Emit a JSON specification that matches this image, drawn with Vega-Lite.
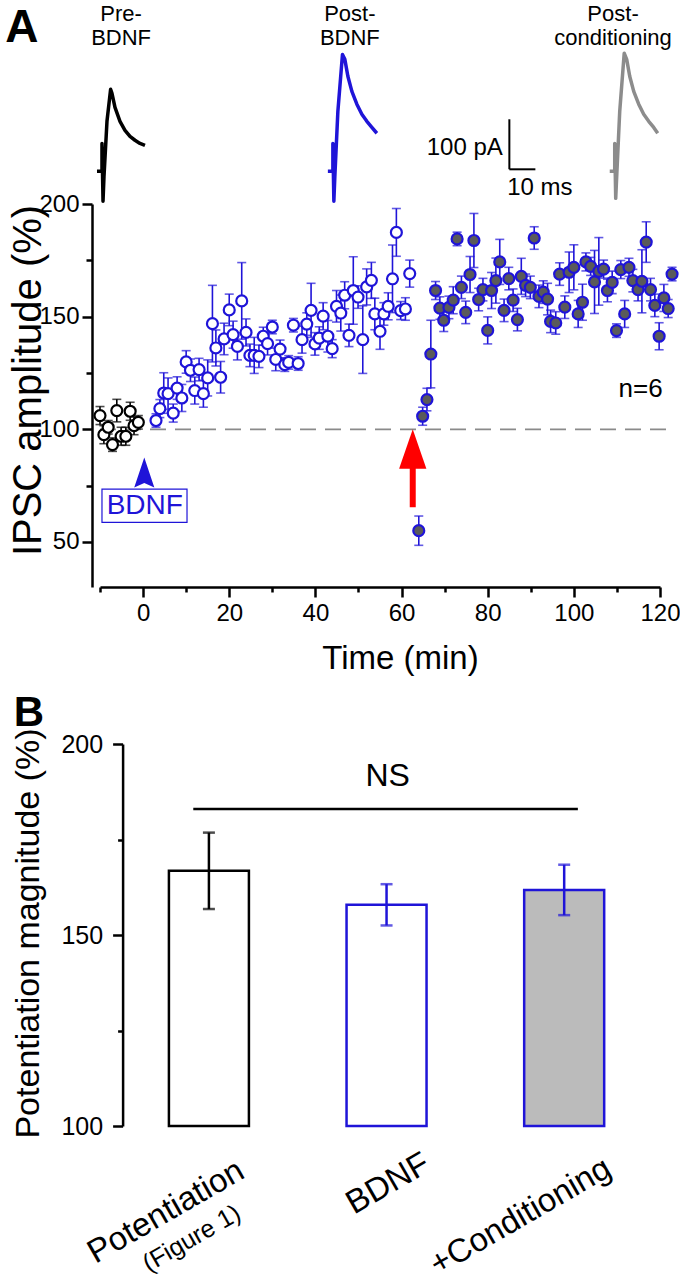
{
  "$schema": "https://vega.github.io/schema/vega-lite/v6.json",
  "padding": {"left": 5, "top": 3, "right": 0, "bottom": 0},
  "background": "white",
  "spacing": 16,
  "resolve": {"scale": {"color": "independent", "fill": "independent", "stroke": "independent"}},
  "config": {
    "font": "Liberation Sans",
    "view": {"stroke": null},
    "axis": {"domainColor": "#000", "domainWidth": 2.5, "tickColor": "#000", "tickWidth": 2.5, "labelColor": "#000", "titleColor": "#000", "grid": false, "labelFont": "Liberation Sans", "titleFont": "Liberation Sans", "titleFontWeight": "normal", "labelOverlap": false, "labelFlush": false}
  },
  "vconcat": [
    {
      "width": 560,
      "height": 383,
      "resolve": {"axis": {"x": "independent", "y": "independent"}},
      "layer": [
        {
          "data": {"values": [{}]},
          "mark": {"type": "rule", "color": "#8a8a8a", "strokeWidth": 1.8, "strokeDash": [16, 9]},
          "encoding": {
            "x": {"datum": -10, "type": "quantitative", "scale": {"domain": [-10, 120], "nice": false, "zero": false},
              "axis": {"orient": "bottom", "values": [0, 20, 40, 60, 80, 100, 120], "tickSize": 10, "labelFontSize": 24, "labelPadding": 4, "title": "Time (min)", "titleFontSize": 33, "titlePadding": 17, "titleX": 300}},
            "x2": {"datum": 122.5},
            "y": {"datum": 100, "type": "quantitative", "scale": {"domain": [30, 200], "nice": false, "zero": false},
              "axis": {"orient": "left", "values": [50, 100, 150, 200], "tickSize": 10, "offset": 8, "labelFontSize": 24, "labelPadding": 3, "title": "IPSC amplitude (%)", "titleFontSize": 40, "titleX": -52, "titleY": 176, "titleBaseline": "alphabetic", "titleAlign": "center", "titleAngle": 270}}
          }
        },
        {
          "data": {"values": [{}]},
          "mark": {"type": "rule", "color": "#000", "strokeWidth": 2},
          "encoding": {
            "x": {"datum": 85.03, "type": "quantitative", "axis": {"orient": "bottom", "values": [-10, 10, 30, 50, 70, 90, 110], "tickSize": 5, "labels": false, "domain": false, "title": null}},
            "y": {"datum": 215.4, "type": "quantitative", "axis": {"orient": "left", "values": [75, 125, 175], "tickSize": 6, "offset": 8, "labels": false, "domain": false, "title": null}},
            "y2": {"datum": 237.6}
          }
        },
        {
          "data": {"values": [
            {"tr": "tpre", "i": 1, "t": -10.7, "v": 214.5}, {"tr": "tpre", "i": 2, "t": -9.54, "v": 214.5}, {"tr": "tpre", "i": 3, "t": -9.54, "v": 226.9}, {"tr": "tpre", "i": 4, "t": -9.3, "v": 201.2}, {"tr": "tpre", "i": 5, "t": -9.07, "v": 212.3}, {"tr": "tpre", "i": 6, "t": -8.38, "v": 236.7}, {"tr": "tpre", "i": 7, "t": -7.54, "v": 250.9}, {"tr": "tpre", "i": 8, "t": -7.22, "v": 249.1}, {"tr": "tpre", "i": 9, "t": -6.52, "v": 242.9}, {"tr": "tpre", "i": 10, "t": -5.36, "v": 236.7}, {"tr": "tpre", "i": 11, "t": -4.2, "v": 232.7}, {"tr": "tpre", "i": 12, "t": -3.04, "v": 230.0}, {"tr": "tpre", "i": 13, "t": -1.88, "v": 228.3}, {"tr": "tpre", "i": 14, "t": -0.72, "v": 226.9}, {"tr": "tpre", "i": 15, "t": 0.44, "v": 226.0},
            {"tr": "tpost", "i": 1, "t": 42.9, "v": 214.5}, {"tr": "tpost", "i": 2, "t": 44.06, "v": 214.5}, {"tr": "tpost", "i": 3, "t": 44.06, "v": 226.9}, {"tr": "tpost", "i": 4, "t": 44.29, "v": 201.2}, {"tr": "tpost", "i": 5, "t": 44.52, "v": 212.3}, {"tr": "tpost", "i": 6, "t": 45.22, "v": 241.1}, {"tr": "tpost", "i": 7, "t": 46.29, "v": 266.4}, {"tr": "tpost", "i": 8, "t": 46.84, "v": 264.2}, {"tr": "tpost", "i": 9, "t": 47.54, "v": 256.7}, {"tr": "tpost", "i": 10, "t": 48.47, "v": 250.0}, {"tr": "tpost", "i": 11, "t": 49.63, "v": 244.3}, {"tr": "tpost", "i": 12, "t": 50.79, "v": 239.8}, {"tr": "tpost", "i": 13, "t": 51.95, "v": 236.7}, {"tr": "tpost", "i": 14, "t": 53.11, "v": 234.0}, {"tr": "tpost", "i": 15, "t": 54.27, "v": 231.4},
            {"tr": "tcond", "i": 1, "t": 108.33, "v": 214.5}, {"tr": "tcond", "i": 2, "t": 109.49, "v": 214.5}, {"tr": "tcond", "i": 3, "t": 109.49, "v": 226.9}, {"tr": "tcond", "i": 4, "t": 109.72, "v": 202.5}, {"tr": "tcond", "i": 5, "t": 109.95, "v": 212.3}, {"tr": "tcond", "i": 6, "t": 110.65, "v": 241.1}, {"tr": "tcond", "i": 7, "t": 111.69, "v": 266.9}, {"tr": "tcond", "i": 8, "t": 112.27, "v": 264.2}, {"tr": "tcond", "i": 9, "t": 112.97, "v": 256.7}, {"tr": "tcond", "i": 10, "t": 113.9, "v": 250.0}, {"tr": "tcond", "i": 11, "t": 115.06, "v": 244.3}, {"tr": "tcond", "i": 12, "t": 116.22, "v": 239.8}, {"tr": "tcond", "i": 13, "t": 117.38, "v": 236.7}, {"tr": "tcond", "i": 14, "t": 118.54, "v": 234.0}, {"tr": "tcond", "i": 15, "t": 119.47, "v": 231.4}
          ]},
          "mark": {"type": "line", "strokeWidth": 3.5, "strokeJoin": "round"},
          "encoding": {
            "x": {"field": "t", "type": "quantitative", "axis": null},
            "y": {"field": "v", "type": "quantitative", "axis": null},
            "color": {"field": "tr", "type": "nominal", "legend": null, "scale": {"domain": ["pre", "bdnf", "cond", "tpre", "tpost", "tcond"], "range": ["#000000", "#1f14d8", "#1f14d8", "#000000", "#1f14d8", "#8c8c8c"]}},
            "order": {"field": "i", "type": "quantitative"}
          }
        },
        {
          "data": {"values": [{}]},
          "mark": {"type": "rule", "color": "#000", "strokeWidth": 2},
          "encoding": {"x": {"datum": 85.03, "type": "quantitative", "axis": null}, "x2": {"datum": 91.07}, "y": {"datum": 215.4, "type": "quantitative", "axis": null}}
        },
        {
          "data": {"values": [{"label": "Pre-\nBDNF", "t": -5.1, "v": 288.6}, {"label": "Post-\nBDNF", "t": 48.0, "v": 288.6}, {"label": "Post-\nconditioning", "t": 109.1, "v": 288.6}]},
          "mark": {"type": "text", "fontSize": 22, "lineBreak": "\n", "lineHeight": 23.5, "baseline": "top", "align": "center", "color": "#000"},
          "encoding": {"x": {"field": "t", "type": "quantitative", "axis": null}, "y": {"field": "v", "type": "quantitative", "axis": null}, "text": {"field": "label"}}
        },
        {
          "data": {"values": [{"label": "100 pA", "t": 83.5, "v": 224.7}]},
          "mark": {"type": "text", "fontSize": 24, "baseline": "middle", "align": "right", "color": "#000"},
          "encoding": {"x": {"field": "t", "type": "quantitative", "axis": null}, "y": {"field": "v", "type": "quantitative", "axis": null}, "text": {"field": "label"}}
        },
        {
          "data": {"values": [{"label": "10 ms", "t": 92.1, "v": 207.0}]},
          "mark": {"type": "text", "fontSize": 24, "baseline": "middle", "align": "center", "color": "#000"},
          "encoding": {"x": {"field": "t", "type": "quantitative", "axis": null}, "y": {"field": "v", "type": "quantitative", "axis": null}, "text": {"field": "label"}}
        },
        {
          "data": {"name": "pts"},
          "mark": {"type": "errorbar", "ticks": true, "size": 9, "thickness": 1.6},
          "encoding": {
            "x": {"field": "t", "type": "quantitative", "axis": null},
            "y": {"field": "v", "type": "quantitative", "axis": null},
            "yError": {"field": "e"},
            "color": {"field": "g", "type": "nominal", "legend": null}
          }
        },
        {
          "data": {"name": "pts"},
          "mark": {"type": "point", "shape": "circle", "filled": true, "size": 120, "strokeWidth": 2.2, "opacity": 1},
          "encoding": {
            "x": {"field": "t", "type": "quantitative", "axis": null},
            "y": {"field": "v", "type": "quantitative", "axis": null},
            "fill": {"field": "g", "type": "nominal", "legend": null, "scale": {"domain": ["pre", "bdnf", "cond"], "range": ["#ffffff", "#ffffff", "#5a5a5a"]}},
            "stroke": {"field": "g", "type": "nominal", "legend": null, "scale": {"domain": ["pre", "bdnf", "cond"], "range": ["#000000", "#1f14d8", "#1f14d8"]}}
          }
        },
        {
          "data": {"values": [{}]},
          "mark": {"type": "rule", "color": "#ff0000", "strokeWidth": 6},
          "encoding": {"x": {"datum": 62.6, "type": "quantitative", "axis": null}, "y": {"datum": 65.4, "type": "quantitative", "axis": null}, "y2": {"datum": 84}}
        },
        {
          "data": {"values": [{}]},
          "mark": {"type": "point", "shape": "M0,-1L0.69,1L-0.69,1Z", "size": 1560, "filled": true, "color": "#ff0000", "opacity": 1},
          "encoding": {"x": {"datum": 62.6, "type": "quantitative", "axis": null}, "y": {"datum": 91.2, "type": "quantitative", "axis": null}}
        },
        {
          "data": {"values": [{}]},
          "mark": {"type": "point", "shape": "M0,-1L0.67,1L0,0.7L-0.67,1Z", "size": 900, "filled": true, "color": "#1f14d8", "opacity": 1},
          "encoding": {"x": {"datum": 0.28, "type": "quantitative", "axis": null}, "y": {"datum": 80.8, "type": "quantitative", "axis": null}}
        },
        {
          "data": {"values": [{}]},
          "mark": {"type": "rect", "fill": "#ffffff", "stroke": "#1f14d8", "strokeWidth": 1.2},
          "encoding": {"x": {"datum": -9.54, "type": "quantitative", "axis": null}, "x2": {"datum": 10.2}, "y": {"datum": 73.4, "type": "quantitative", "axis": null}, "y2": {"datum": 58.7}}
        },
        {
          "data": {"values": [{"label": "BDNF", "t": 0.4, "v": 65.8}]},
          "mark": {"type": "text", "fontSize": 28, "baseline": "middle", "align": "center", "color": "#1f14d8"},
          "encoding": {"x": {"field": "t", "type": "quantitative", "axis": null}, "y": {"field": "v", "type": "quantitative", "axis": null}, "text": {"field": "label"}}
        },
        {
          "data": {"values": [{"label": "n=6", "t": 115.5, "v": 117.8}]},
          "mark": {"type": "text", "fontSize": 26, "baseline": "middle", "align": "center", "color": "#000"},
          "encoding": {"x": {"field": "t", "type": "quantitative", "axis": null}, "y": {"field": "v", "type": "quantitative", "axis": null}, "text": {"field": "label"}}
        },
        {
          "data": {"values": [{"label": "A", "t": -32.0, "v": 288.0}]},
          "mark": {"type": "text", "fontSize": 46, "fontWeight": "bold", "baseline": "top", "align": "left", "color": "#000"},
          "encoding": {"x": {"field": "t", "type": "quantitative", "axis": null}, "y": {"field": "v", "type": "quantitative", "axis": null}, "text": {"field": "label"}}
        }
      ]
    },
    {
      "width": 558,
      "height": 382,
      "resolve": {"axis": {"y": "independent"}},
      "layer": [
        {
          "data": {"name": "bars"},
          "mark": {"type": "bar", "size": 80, "strokeWidth": 2.5},
          "encoding": {
            "x": {"field": "pos", "type": "quantitative", "scale": {"domain": [0.415, 3.5], "nice": false, "zero": false}, "axis": null},
            "y": {"field": "m", "type": "quantitative", "scale": {"domain": [100, 200], "nice": false, "zero": false},
              "axis": {"orient": "left", "values": [100, 150, 200], "tickSize": 10, "offset": -22.6, "labelFontSize": 25, "labelPadding": 10, "title": "Potentiation magnitude (%)", "titleFontSize": 34, "titleX": -84, "titleY": 189, "titleBaseline": "alphabetic", "titleAlign": "center", "titleAngle": 270}},
            "y2": {"datum": 100},
            "fill": {"field": "g", "type": "nominal", "legend": null, "scale": {"domain": ["pot", "bdnf", "cond"], "range": ["#ffffff", "#ffffff", "#bbbbbb"]}},
            "stroke": {"field": "g", "type": "nominal", "legend": null, "scale": {"domain": ["pot", "bdnf", "cond"], "range": ["#000000", "#1f14d8", "#1f14d8"]}}
          }
        },
        {
          "data": {"name": "bars"},
          "mark": {"type": "errorbar", "ticks": true, "size": 12, "thickness": 2.5},
          "encoding": {
            "x": {"field": "pos", "type": "quantitative", "axis": null},
            "y": {"field": "m", "type": "quantitative", "axis": null},
            "yError": {"field": "e"},
            "color": {"field": "g", "type": "nominal", "legend": null, "scale": {"domain": ["pot", "bdnf", "cond"], "range": ["#000000", "#1f14d8", "#1f14d8"]}}
          }
        },
        {
          "data": {"values": [{}]},
          "mark": {"type": "rule", "color": "#000", "strokeWidth": 2.5},
          "encoding": {
            "x": {"datum": 0.912, "type": "quantitative", "axis": null},
            "x2": {"datum": 3.077},
            "y": {"datum": 183, "type": "quantitative", "axis": {"orient": "left", "values": [125, 175], "tickSize": 5, "offset": -22.6, "labels": false, "domain": false, "title": null}}
          }
        },
        {
          "data": {"values": [{"label": "NS", "pos": 2.006, "v": 191.6}]},
          "mark": {"type": "text", "fontSize": 32, "baseline": "middle", "align": "center", "color": "#000"},
          "encoding": {"x": {"field": "pos", "type": "quantitative", "axis": null}, "y": {"field": "v", "type": "quantitative", "axis": null}, "text": {"field": "label"}}
        },
        {
          "data": {"values": [{"label": "Potentiation", "pos": 1.138, "v": 92.6}, {"label": "BDNF", "pos": 2.182, "v": 94.4}, {"label": "+Conditioning", "pos": 3.204, "v": 93.2}]},
          "mark": {"type": "text", "fontSize": 33, "angle": -30, "baseline": "top", "align": "right", "color": "#000"},
          "encoding": {"x": {"field": "pos", "type": "quantitative", "axis": null}, "y": {"field": "v", "type": "quantitative", "axis": null}, "text": {"field": "label"}}
        },
        {
          "data": {"values": [{"label": "(Figure 1)", "pos": 1.133, "v": 80.4}]},
          "mark": {"type": "text", "fontSize": 25, "angle": -30, "baseline": "top", "align": "right", "color": "#000"},
          "encoding": {"x": {"field": "pos", "type": "quantitative", "axis": null}, "y": {"field": "v", "type": "quantitative", "axis": null}, "text": {"field": "label"}}
        },
        {
          "data": {"values": [{"label": "B", "pos": -0.099, "v": 213.4}]},
          "mark": {"type": "text", "fontSize": 42, "fontWeight": "bold", "baseline": "top", "align": "left", "color": "#000"},
          "encoding": {"x": {"field": "pos", "type": "quantitative", "axis": null}, "y": {"field": "v", "type": "quantitative", "axis": null}, "text": {"field": "label"}}
        }
      ]
    }
  ],
  "datasets": {
    "bars": [
      {"cond": "Potentiation", "pos": 1, "m": 166.8, "e": 10.0, "g": "pot"},
      {"cond": "BDNF", "pos": 2, "m": 157.9, "e": 5.4, "g": "bdnf"},
      {"cond": "+Conditioning", "pos": 3, "m": 161.8, "e": 6.6, "g": "cond"}
    ],
    "pts": [
      {"t": -10.0, "v": 106.1, "e": 4, "g": "pre"}, {"t": -9.1, "v": 97.6, "e": 4, "g": "pre"}, {"t": -8.1, "v": 100.9, "e": 3, "g": "pre"}, {"t": -7.1, "v": 93.2, "e": 3, "g": "pre"}, {"t": -6.1, "v": 108.3, "e": 5, "g": "pre"}, {"t": -5.1, "v": 96.9, "e": 4, "g": "pre"}, {"t": -4.0, "v": 96.9, "e": 4, "g": "pre"}, {"t": -3.0, "v": 108.0, "e": 4, "g": "pre"}, {"t": -2.1, "v": 101.6, "e": 4, "g": "pre"}, {"t": -1.1, "v": 103.1, "e": 3, "g": "pre"},
      {"t": 3.0, "v": 103.9, "e": 3, "g": "bdnf"}, {"t": 3.9, "v": 109.2, "e": 4, "g": "bdnf"}, {"t": 4.8, "v": 116.1, "e": 9, "g": "bdnf"}, {"t": 5.8, "v": 115.8, "e": 7, "g": "bdnf"}, {"t": 7.0, "v": 107.2, "e": 4, "g": "bdnf"}, {"t": 7.9, "v": 118.3, "e": 5, "g": "bdnf"}, {"t": 9.0, "v": 113.9, "e": 6, "g": "bdnf"}, {"t": 10.0, "v": 129.9, "e": 5, "g": "bdnf"}, {"t": 11.0, "v": 126.2, "e": 5, "g": "bdnf"}, {"t": 12.0, "v": 117.2, "e": 6, "g": "bdnf"}, {"t": 13.0, "v": 126.5, "e": 5, "g": "bdnf"}, {"t": 14.0, "v": 115.8, "e": 6, "g": "bdnf"}, {"t": 15.0, "v": 122.8, "e": 8, "g": "bdnf"}, {"t": 16.1, "v": 146.9, "e": 17, "g": "bdnf"}, {"t": 16.9, "v": 136.1, "e": 8, "g": "bdnf"}, {"t": 18.0, "v": 123.1, "e": 7, "g": "bdnf"}, {"t": 18.8, "v": 140.1, "e": 7, "g": "bdnf"}, {"t": 20.0, "v": 153.0, "e": 7, "g": "bdnf"}, {"t": 20.9, "v": 142.0, "e": 6, "g": "bdnf"}, {"t": 21.9, "v": 136.8, "e": 6, "g": "bdnf"}, {"t": 22.9, "v": 157.0, "e": 17, "g": "bdnf"}, {"t": 23.9, "v": 143.0, "e": 6, "g": "bdnf"}, {"t": 24.8, "v": 132.8, "e": 5, "g": "bdnf"}, {"t": 25.8, "v": 132.8, "e": 8, "g": "bdnf"}, {"t": 26.9, "v": 132.4, "e": 5, "g": "bdnf"}, {"t": 27.9, "v": 141.3, "e": 4, "g": "bdnf"}, {"t": 28.9, "v": 138.0, "e": 5, "g": "bdnf"}, {"t": 30.0, "v": 145.4, "e": 3, "g": "bdnf"}, {"t": 30.8, "v": 131.0, "e": 5, "g": "bdnf"}, {"t": 31.8, "v": 135.6, "e": 4, "g": "bdnf"}, {"t": 32.9, "v": 128.7, "e": 3, "g": "bdnf"}, {"t": 33.8, "v": 129.7, "e": 3, "g": "bdnf"}, {"t": 34.9, "v": 146.2, "e": 3, "g": "bdnf"}, {"t": 36.0, "v": 129.2, "e": 3, "g": "bdnf"}, {"t": 36.9, "v": 139.8, "e": 6, "g": "bdnf"}, {"t": 38.0, "v": 146.7, "e": 5, "g": "bdnf"}, {"t": 39.0, "v": 152.8, "e": 12, "g": "bdnf"}, {"t": 39.9, "v": 137.9, "e": 5, "g": "bdnf"}, {"t": 40.9, "v": 140.5, "e": 5, "g": "bdnf"}, {"t": 41.8, "v": 150.2, "e": 6, "g": "bdnf"}, {"t": 42.9, "v": 141.3, "e": 7, "g": "bdnf"}, {"t": 43.9, "v": 135.8, "e": 4, "g": "bdnf"}, {"t": 44.9, "v": 154.6, "e": 7, "g": "bdnf"}, {"t": 45.9, "v": 151.6, "e": 8, "g": "bdnf"}, {"t": 46.8, "v": 159.5, "e": 6, "g": "bdnf"}, {"t": 47.8, "v": 141.7, "e": 5, "g": "bdnf"}, {"t": 48.8, "v": 161.6, "e": 15, "g": "bdnf"}, {"t": 49.9, "v": 158.7, "e": 5, "g": "bdnf"}, {"t": 51.0, "v": 139.8, "e": 15, "g": "bdnf"}, {"t": 51.9, "v": 163.2, "e": 8, "g": "bdnf"}, {"t": 53.0, "v": 166.1, "e": 8, "g": "bdnf"}, {"t": 53.8, "v": 151.2, "e": 7, "g": "bdnf"}, {"t": 55.0, "v": 143.5, "e": 8, "g": "bdnf"}, {"t": 55.9, "v": 151.2, "e": 5, "g": "bdnf"}, {"t": 56.9, "v": 154.6, "e": 6, "g": "bdnf"}, {"t": 57.9, "v": 166.8, "e": 15, "g": "bdnf"}, {"t": 58.8, "v": 187.4, "e": 10.6, "g": "bdnf"}, {"t": 59.8, "v": 152.7, "e": 4, "g": "bdnf"}, {"t": 60.9, "v": 153.4, "e": 5, "g": "bdnf"}, {"t": 61.9, "v": 169.1, "e": 6, "g": "bdnf"},
      {"t": 64.0, "v": 55.0, "e": 6.5, "g": "cond"}, {"t": 64.9, "v": 105.8, "e": 4, "g": "cond"}, {"t": 65.9, "v": 113.2, "e": 5, "g": "cond"}, {"t": 66.8, "v": 133.4, "e": 15, "g": "cond"}, {"t": 67.9, "v": 161.6, "e": 4, "g": "cond"}, {"t": 68.9, "v": 153.8, "e": 5, "g": "cond"}, {"t": 69.8, "v": 148.4, "e": 5, "g": "cond"}, {"t": 71.0, "v": 154.1, "e": 5, "g": "cond"}, {"t": 72.0, "v": 157.3, "e": 6, "g": "cond"}, {"t": 72.9, "v": 184.5, "e": 3, "g": "cond"}, {"t": 73.9, "v": 163.0, "e": 5, "g": "cond"}, {"t": 74.9, "v": 151.9, "e": 5, "g": "cond"}, {"t": 75.9, "v": 168.7, "e": 8, "g": "cond"}, {"t": 76.8, "v": 183.8, "e": 12, "g": "cond"}, {"t": 77.9, "v": 157.6, "e": 5, "g": "cond"}, {"t": 78.9, "v": 162.0, "e": 5, "g": "cond"}, {"t": 80.0, "v": 143.9, "e": 6, "g": "cond"}, {"t": 80.9, "v": 161.6, "e": 8, "g": "cond"}, {"t": 81.9, "v": 166.0, "e": 10, "g": "cond"}, {"t": 82.8, "v": 174.3, "e": 10, "g": "cond"}, {"t": 83.8, "v": 152.8, "e": 5, "g": "cond"}, {"t": 84.9, "v": 166.9, "e": 5, "g": "cond"}, {"t": 85.9, "v": 157.3, "e": 5, "g": "cond"}, {"t": 86.9, "v": 148.7, "e": 5, "g": "cond"}, {"t": 87.8, "v": 167.9, "e": 8, "g": "cond"}, {"t": 88.8, "v": 163.9, "e": 5, "g": "cond"}, {"t": 89.9, "v": 163.0, "e": 5, "g": "cond"}, {"t": 90.8, "v": 184.9, "e": 5, "g": "cond"}, {"t": 91.9, "v": 159.0, "e": 5, "g": "cond"}, {"t": 92.9, "v": 160.9, "e": 5, "g": "cond"}, {"t": 93.9, "v": 157.8, "e": 7, "g": "cond"}, {"t": 94.6, "v": 147.9, "e": 5, "g": "cond"}, {"t": 95.8, "v": 147.2, "e": 5, "g": "cond"}, {"t": 96.7, "v": 168.9, "e": 5, "g": "cond"}, {"t": 97.9, "v": 154.2, "e": 5, "g": "cond"}, {"t": 98.9, "v": 169.7, "e": 9, "g": "cond"}, {"t": 100.0, "v": 171.9, "e": 10, "g": "cond"}, {"t": 101.0, "v": 151.2, "e": 6, "g": "cond"}, {"t": 102.0, "v": 156.4, "e": 8, "g": "cond"}, {"t": 102.8, "v": 174.3, "e": 4, "g": "cond"}, {"t": 103.9, "v": 172.3, "e": 4, "g": "cond"}, {"t": 104.8, "v": 165.4, "e": 14, "g": "cond"}, {"t": 105.8, "v": 170.1, "e": 15, "g": "cond"}, {"t": 106.9, "v": 171.1, "e": 4, "g": "cond"}, {"t": 107.8, "v": 161.6, "e": 5, "g": "cond"}, {"t": 108.9, "v": 165.2, "e": 5, "g": "cond"}, {"t": 109.9, "v": 143.8, "e": 3, "g": "cond"}, {"t": 110.9, "v": 170.9, "e": 4, "g": "cond"}, {"t": 111.8, "v": 151.2, "e": 6, "g": "cond"}, {"t": 112.8, "v": 171.9, "e": 4, "g": "cond"}, {"t": 113.7, "v": 166.0, "e": 5, "g": "cond"}, {"t": 114.9, "v": 162.0, "e": 5, "g": "cond"}, {"t": 115.8, "v": 165.7, "e": 14, "g": "cond"}, {"t": 116.8, "v": 183.1, "e": 9, "g": "cond"}, {"t": 117.8, "v": 162.0, "e": 5, "g": "cond"}, {"t": 118.8, "v": 155.0, "e": 5, "g": "cond"}, {"t": 119.8, "v": 141.3, "e": 6, "g": "cond"}, {"t": 120.9, "v": 158.3, "e": 6, "g": "cond"}, {"t": 121.9, "v": 153.6, "e": 4, "g": "cond"}, {"t": 122.8, "v": 168.9, "e": 3, "g": "cond"}
    ]
  }
}
